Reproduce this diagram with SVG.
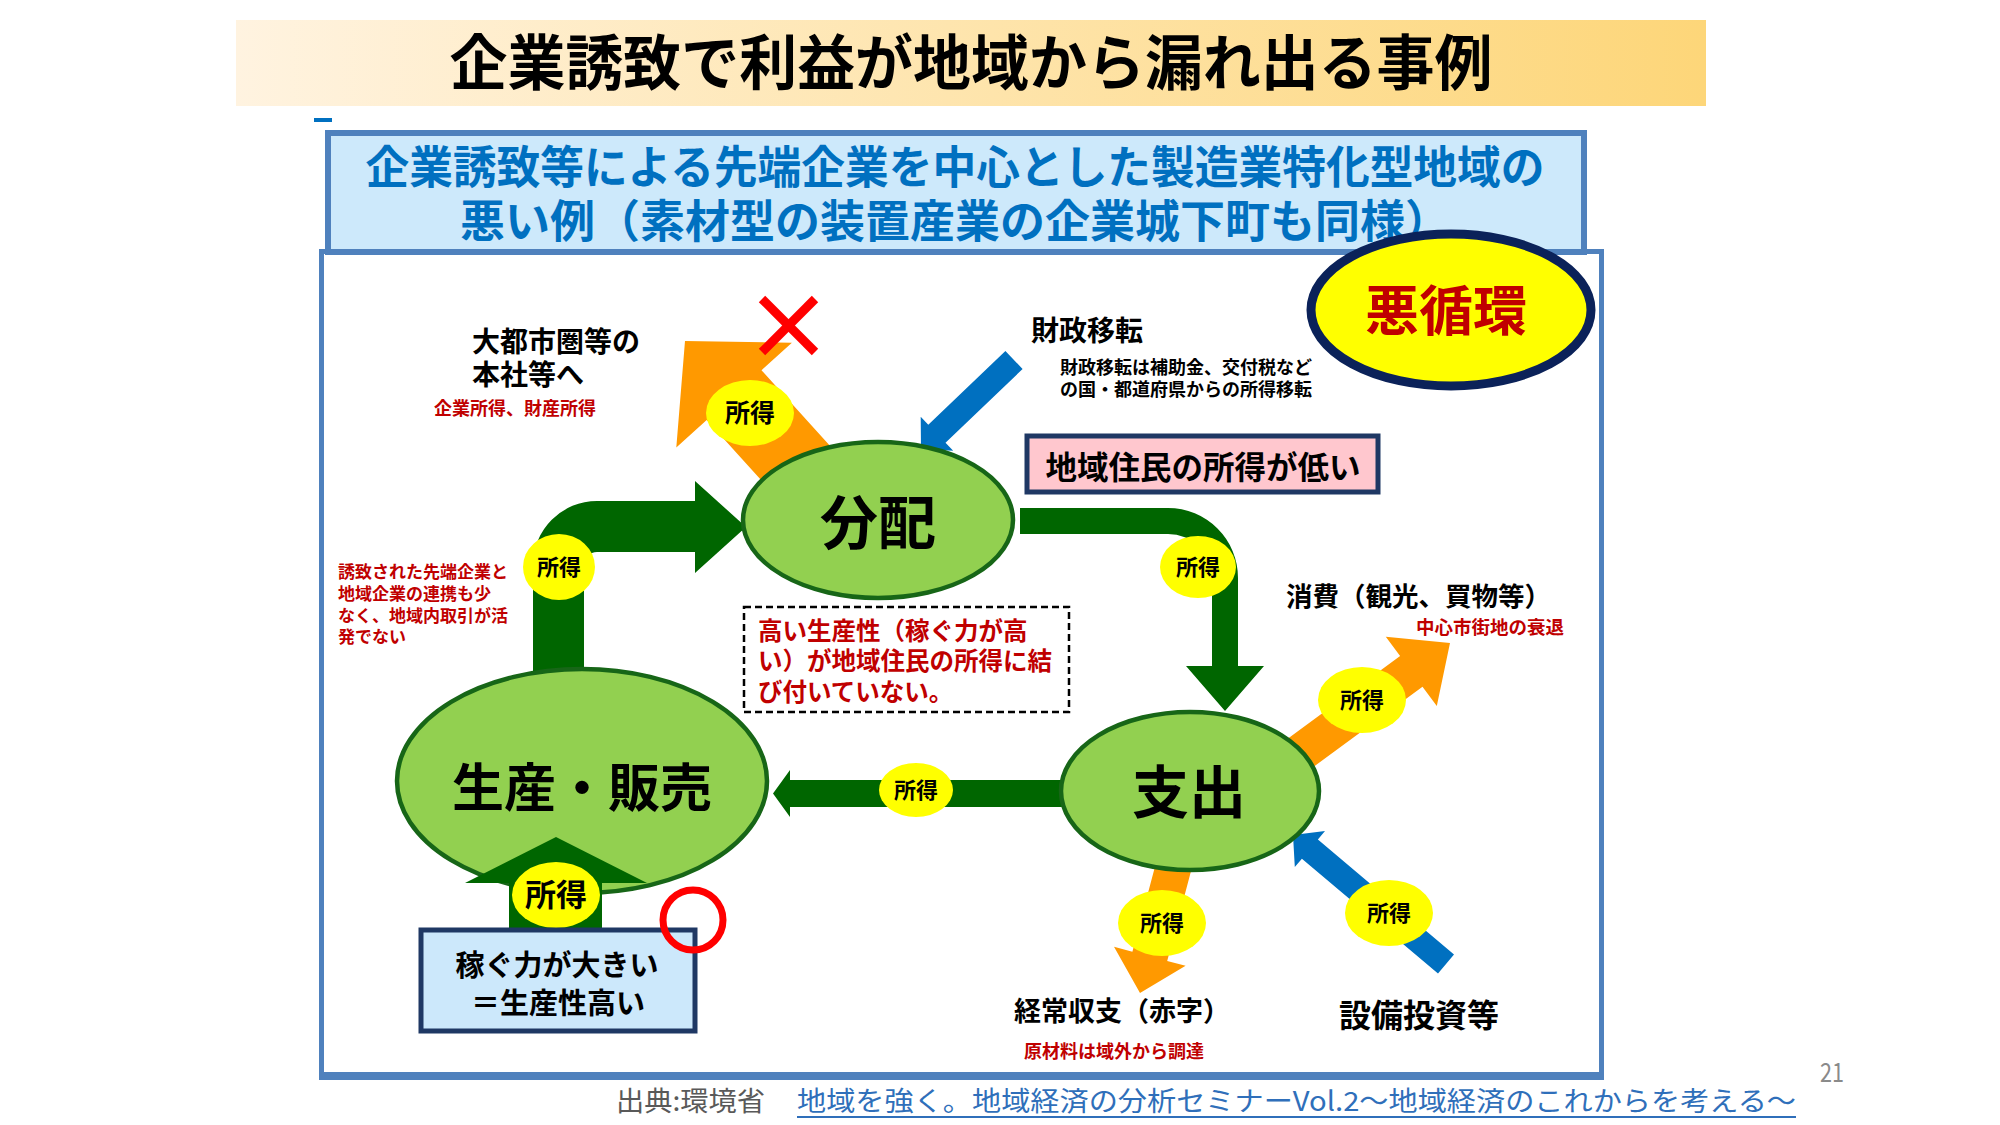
<svg xmlns="http://www.w3.org/2000/svg" width="2000" height="1125" viewBox="0 0 2000 1125">
<defs>
<linearGradient id="titleGrad" x1="0" y1="0" x2="1" y2="0">
<stop offset="0" stop-color="#fff3e0"/>
<stop offset="1" stop-color="#fdd679"/>
</linearGradient>
<style>
text{font-family:'Noto Sans CJK JP','Noto Sans CJK SC',sans-serif;font-weight:700;fill:#000}
.red{fill:#c00000}
.garrow{fill:#006600}
.orange{fill:#ff9900}
.blue{fill:#0070c0}
.ell{fill:#92d050;stroke:#176617;stroke-width:4.5}
.badge{fill:#ffff00}
.bt{font-size:22px;text-anchor:middle}
.mid{text-anchor:middle}
.navybox{stroke:#1f3864;stroke-width:5}
</style>
</defs>
<rect width="2000" height="1125" fill="#ffffff"/>

<g id="title">
<rect x="236" y="20" width="1470" height="86" fill="url(#titleGrad)"/>
<text x="971" y="85" font-size="60" text-anchor="middle" textLength="1043" lengthAdjust="spacingAndGlyphs">企業誘致で利益が地域から漏れ出る事例</text>
</g>
<rect x="314" y="118" width="18" height="4" fill="#0070c0"/>

<g id="frame">
<rect x="321.5" y="251.5" width="1280" height="825" fill="#ffffff" stroke="#4f81bd" stroke-width="5"/>
<rect x="319" y="1072" width="1285" height="8" fill="#4f81bd"/>
</g>

<g id="subtitle">
<rect x="328" y="133" width="1256" height="119" fill="#cde9fb" stroke="#4f81bd" stroke-width="6"/>
<text x="955" y="184" font-size="45" text-anchor="middle" textLength="1179" lengthAdjust="spacingAndGlyphs" style="fill:#0070c0">企業誘致等による先端企業を中心とした製造業特化型地域の</text>
<text x="955" y="238" font-size="45" text-anchor="middle" style="fill:#0070c0">悪い例（素材型の装置産業の企業城下町も同様）</text>
</g>

<g id="vicious-circle">
<ellipse cx="1451" cy="310" rx="140" ry="76" fill="#ffff00" stroke="#0b2259" stroke-width="9"/>
<text x="1446" y="331" font-size="54" text-anchor="middle" class="red">悪循環</text>
</g>

<g id="connectors">
<polygon class="orange" points="840.1,456.9 761.5,370.2 791.9,342.7 685,341 676.3,447.5 706.7,420 785.3,506.7"/>
<polygon class="blue" points="1005.4,351 928.3,424.8 920.7,416.8 921,449 953.2,450.8 945.5,442.8 1022.6,369"/>
<path class="garrow" d="M533,680 V565 A64,64 0 0 1 597,501 H695 V481 L746,527 L695,573 V552 H597 A13,13 0 0 0 584,565 V680 Z"/>
<path class="garrow" d="M1020,508 H1168 A70,70 0 0 1 1238,578 V666 H1264 L1225,711 L1186,666 H1212 V578 A44,44 0 0 0 1168,534 H1020 Z"/>
<path class="garrow" d="M1066,780 H790 V770 L773,793.5 L790,817 V807 H1066 Z"/>
<polygon class="orange" points="1275.9,794.5 1422.5,686.7 1436.8,706.1 1450,643 1385.8,636.7 1400.1,656.1 1253.4,763.9"/>
<polygon class="orange" points="1195.4,854.6 1167.2,960.9 1185.6,965.8 1140,993 1114,946.8 1132.4,951.7 1160.6,845.4"/>
<polygon class="blue" points="1454,954.4 1317.9,839.5 1325,831.1 1293,835 1294.8,867.1 1301.9,858.7 1438,973.6"/>

<ellipse class="badge" cx="750" cy="413" rx="44" ry="33"/>
<text class="bt" x="750" y="422" style="font-size:25px">所得</text>
<ellipse class="badge" cx="559" cy="567" rx="36" ry="33"/>
<text class="bt" x="559" y="575">所得</text>
<ellipse class="badge" cx="1198" cy="567" rx="38" ry="31"/>
<text class="bt" x="1198" y="575">所得</text>
<ellipse class="badge" cx="916" cy="790" rx="37" ry="27"/>
<text class="bt" x="916" y="798">所得</text>
<ellipse class="badge" cx="1362" cy="700" rx="44" ry="33"/>
<text class="bt" x="1362" y="708">所得</text>
<ellipse class="badge" cx="1162" cy="923" rx="44" ry="33"/>
<text class="bt" x="1162" y="931">所得</text>
<ellipse class="badge" cx="1389" cy="913" rx="44" ry="33"/>
<text class="bt" x="1389" y="921">所得</text>
</g>

<g id="node-distribution">
<ellipse class="ell" cx="878" cy="520" rx="135" ry="78"/>
<text x="878" y="544" font-size="58" class="mid">分配</text>
</g>
<g id="node-production">
<ellipse class="ell" cx="582" cy="781" rx="185" ry="112"/>
<text x="582" y="807" font-size="52" class="mid">生産・販売</text>
</g>
<g id="node-expenditure">
<ellipse class="ell" cx="1190" cy="791" rx="129" ry="79"/>
<text x="1189" y="813" font-size="57" class="mid">支出</text>
</g>

<g id="connectors-front">
<path class="garrow" d="M509,934 V883 H465 L556,837 L647,883 H602 V934 Z"/>
<ellipse class="badge" cx="556" cy="895" rx="44" ry="33"/>
<text class="bt" x="556" y="906" style="font-size:31px">所得</text>
</g>

<g id="node-earning-power">
<rect x="421" y="930" width="274" height="101" fill="#cce8fb" class="navybox"/>
<text x="557" y="976" font-size="29" class="mid">稼ぐ力が大きい</text>
<text x="558" y="1014" font-size="29" class="mid">＝生産性高い</text>
</g>

<g id="node-low-income">
<rect x="1027" y="436" width="351" height="56" fill="#ffc7ce" class="navybox"/>
<text x="1203" y="479" font-size="31.5" class="mid">地域住民の所得が低い</text>
</g>

<g id="node-note">
<rect x="744" y="607" width="325" height="105" fill="#ffffff" stroke="#000000" stroke-width="2.5" stroke-dasharray="7 4"/>
<text x="758" y="640" font-size="24.5" class="red">高い生産性（稼ぐ力が高</text>
<text x="758" y="670" font-size="24.5" class="red">い）が地域住民の所得に結</text>
<text x="758" y="701" font-size="24.5" class="red">び付いていない。</text>
</g>

<g id="marks">
<line x1="762" y1="299" x2="815" y2="352" stroke="#ff0000" stroke-width="9"/>
<line x1="815" y1="299" x2="762" y2="352" stroke="#ff0000" stroke-width="9"/>
<circle cx="693" cy="920" r="30" fill="none" stroke="#ff0000" stroke-width="7"/>
</g>

<g id="labels">
<text x="472" y="352" font-size="28">大都市圏等の</text>
<text x="472" y="385" font-size="28">本社等へ</text>
<text x="434" y="415" font-size="18" class="red">企業所得、財産所得</text>

<text x="1031" y="341" font-size="28">財政移転</text>
<text x="1060" y="374" font-size="18">財政移転は補助金、交付税など</text>
<text x="1060" y="396" font-size="18">の国・都道府県からの所得移転</text>

<text x="338" y="578" font-size="17" class="red">誘致された先端企業と</text>
<text x="338" y="600" font-size="17" class="red">地域企業の連携も少</text>
<text x="338" y="622" font-size="17" class="red">なく、地域内取引が活</text>
<text x="338" y="643" font-size="17" class="red">発でない</text>

<text x="1286" y="606" font-size="26.5">消費（観光、買物等）</text>
<text x="1416" y="634" font-size="18.5" class="red">中心市街地の衰退</text>

<text x="1014" y="1021" font-size="27">経常収支（赤字）</text>
<text x="1024" y="1058" font-size="18" class="red">原材料は域外から調達</text>

<text x="1339" y="1027" font-size="32">設備投資等</text>
</g>

<g id="footer">
<text x="616" y="1111" font-size="27" textLength="149" lengthAdjust="spacingAndGlyphs" style="font-weight:400;fill:#595959">出典:環境省</text>
<text x="797" y="1111" font-size="27" textLength="999" lengthAdjust="spacingAndGlyphs" style="font-weight:400;fill:#2f6fba">地域を強く。地域経済の分析セミナーVol.2～地域経済のこれからを考える～</text>
<rect x="797" y="1116" width="999" height="2" fill="#2f6fba"/>
<text x="1820" y="1082" font-size="26" textLength="24" lengthAdjust="spacingAndGlyphs" style="font-weight:400;fill:#8a8a8a">21</text>
</g>
</svg>
